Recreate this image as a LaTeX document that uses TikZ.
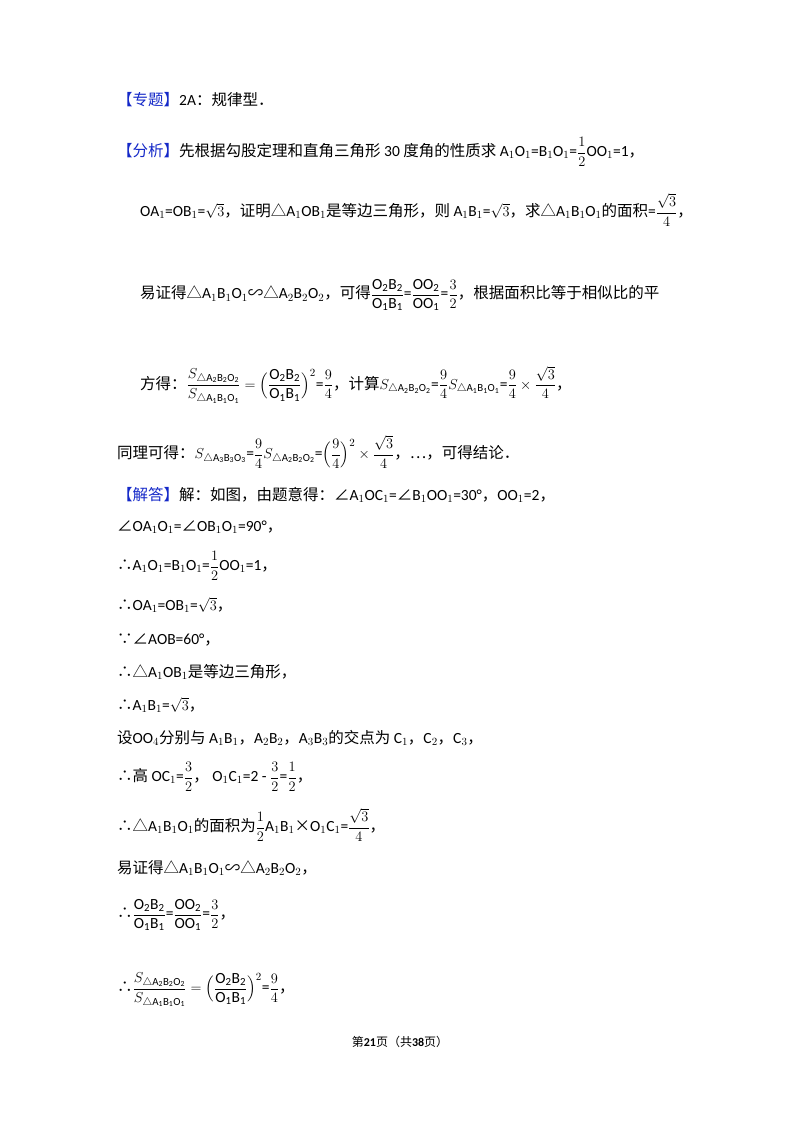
\documentclass[tikz,border=0pt]{standalone}
\usepackage{amsmath}
\usepackage{fontspec}
\setmainfont{Carlito}
\newfontfamily\cjk{Noto Sans CJK SC}
\newcommand\zh[1]{{\cjk #1}}
\definecolor{tagblue}{RGB}{20,40,200}
\newcommand\hdtag[1]{\textcolor{tagblue}{\zh{【#1】}}}
\begin{document}
\begin{tikzpicture}[x=1pt,y=-1pt,every node/.style={anchor=west,inner sep=0pt,font=\fontsize{15.5pt}{18pt}\selectfont}]
\useasboundingbox (0,0) rectangle (800,1132);
\node (l1) at (117,100) {\hdtag{专题}2A\zh{：规律型．}};
\node (l2) at (117,152) {\hdtag{分析}\zh{先根据勾股定理和直角三角形} 30 \zh{度角的性质求} A$_1$O$_1$=B$_1$O$_1$=$\dfrac12$OO$_1$=1\zh{，}};
\node (l3) at (140,210) {OA$_1$=OB$_1$=$\sqrt3$\zh{，证明△}A$_1$OB$_1$\zh{是等边三角形，则} A$_1$B$_1$=$\sqrt3$\zh{，求△}A$_1$B$_1$O$_1$\zh{的面积}=$\dfrac{\sqrt3}{4}$\zh{，}};
\node (l4) at (140,295) {\zh{易证得△}A$_1$B$_1$O$_1$\zh{∽△}A$_2$B$_2$O$_2$\zh{，可得}$\dfrac{\mathrm{O_2B_2}}{\mathrm{O_1B_1}}$=$\dfrac{\mathrm{OO_2}}{\mathrm{OO_1}}$=$\dfrac32$\zh{，根据面积比等于相似比的平}};
\node (l5) at (140,385) {\zh{方得：}$\dfrac{S_{\triangle \mathrm{A_2B_2O_2}}}{S_{\triangle \mathrm{A_1B_1O_1}}}=\Bigl(\dfrac{\mathrm{O_2B_2}}{\mathrm{O_1B_1}}\Bigr)^2$=$\dfrac94$\zh{，计算}$S_{\triangle \mathrm{A_2B_2O_2}}$=$\dfrac94S_{\triangle \mathrm{A_1B_1O_1}}$=$\dfrac94\times\dfrac{\sqrt3}{4}$\zh{，}};
\node (l6) at (117,452) {\zh{同理可得：}$S_{\triangle \mathrm{A_3B_3O_3}}$=$\dfrac94S_{\triangle \mathrm{A_2B_2O_2}}$=$\Bigl(\dfrac94\Bigr)^2\times\dfrac{\sqrt3}{4}$\zh{，…，可得结论．}};
\node (l7) at (117,495) {\hdtag{解答}\zh{解：如图，由题意得：∠}A$_1$OC$_1$=\zh{∠}B$_1$OO$_1$=30°\zh{，}OO$_1$=2\zh{，}};
\node (l8) at (117,527) {\zh{∠}OA$_1$O$_1$=\zh{∠}OB$_1$O$_1$=90°\zh{，}};
\node (l9) at (117,566) {\zh{∴}A$_1$O$_1$=B$_1$O$_1$=$\dfrac12$OO$_1$=1\zh{，}};
\node (l10) at (117,605) {\zh{∴}OA$_1$=OB$_1$=$\sqrt3$\zh{，}};
\node (l11) at (117,640) {\zh{∵∠}AOB=60°\zh{，}};
\node (l12) at (117,672) {\zh{∴△}A$_1$OB$_1$\zh{是等边三角形，}};
\node (l13) at (117,705) {\zh{∴}A$_1$B$_1$=$\sqrt3$\zh{，}};
\node (l14) at (117,738) {\zh{设}OO$_4$\zh{分别与} A$_1$B$_1$\zh{，}A$_2$B$_2$\zh{，}A$_3$B$_3$\zh{的交点为} C$_1$\zh{，}C$_2$\zh{，}C$_3$\zh{，}};
\node (l15) at (117,777) {\zh{∴高} OC$_1$=$\dfrac32$\zh{，} O$_1$C$_1$=2 - $\dfrac32$=$\dfrac12$\zh{，}};
\node (l16) at (117,825) {\zh{∴△}A$_1$B$_1$O$_1$\zh{的面积为}$\dfrac12$A$_1$B$_1$\zh{×}O$_1$C$_1$=$\dfrac{\sqrt3}{4}$\zh{，}};
\node (l17) at (117,868) {\zh{易证得△}A$_1$B$_1$O$_1$\zh{∽△}A$_2$B$_2$O$_2$\zh{，}};
\node (l18) at (117,915) {\zh{∴}$\dfrac{\mathrm{O_2B_2}}{\mathrm{O_1B_1}}$=$\dfrac{\mathrm{OO_2}}{\mathrm{OO_1}}$=$\dfrac32$\zh{，}};
\node (l19) at (117,990) {\zh{∴}$\dfrac{S_{\triangle \mathrm{A_2B_2O_2}}}{S_{\triangle \mathrm{A_1B_1O_1}}}=\Bigl(\dfrac{\mathrm{O_2B_2}}{\mathrm{O_1B_1}}\Bigr)^2$=$\dfrac94$\zh{，}};
\node[anchor=center,font=\fontsize{12pt}{14pt}\selectfont] (pg) at (400,1042) {\zh{第}\textbf{21}\zh{页（共}\textbf{38}\zh{页）}};
\end{tikzpicture}
\end{document}
